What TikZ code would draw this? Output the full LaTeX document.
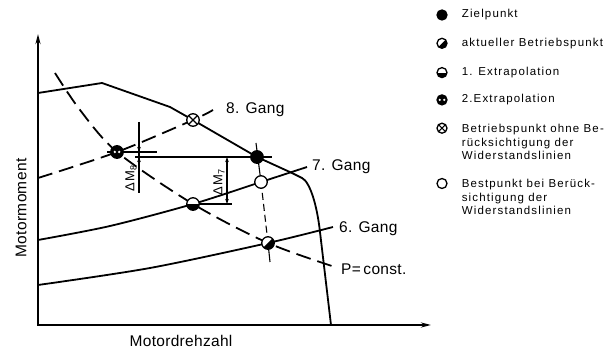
\documentclass[tikz,border=0pt]{standalone}
\usepackage{fontspec}
\setmainfont{Liberation Sans}
\newfontfamily\legfont[LetterSpace=10]{Liberation Sans}
\newfontfamily\labfont[LetterSpace=2]{Liberation Sans}
\usepackage{tikz}
\usetikzlibrary{arrows.meta,positioning,shapes}

\begin{document}
\begin{tikzpicture}[x=1pt, y=-1pt, node distance=17pt,
    curve/.style={line width=1.8pt},
    dashcurve/.style={line width=1.8pt, dash pattern=on 15pt off 7pt},
    helpline/.style={line width=1.1pt},
    dim/.style={helpline, -{Stealth[length=5pt,width=3.5pt]}},
    mk/.style={circle, draw, line width=1.3pt, inner sep=0pt, minimum size=12.5pt, fill=white},
    legmk/.style={mk, minimum size=10pt},
    ziel/.style={fill=black},
    best/.style={},
    ohne/.style={path picture={\draw[black, line width=1.1pt] (path picture bounding box.north west) -- (path picture bounding box.south east) (path picture bounding box.north east) -- (path picture bounding box.south west);}},
    aktuell/.style={path picture={\fill[black] (path picture bounding box.north east) -- (path picture bounding box.south west) -- (path picture bounding box.south east) -- cycle;}},
    extraA/.style={path picture={\fill[black] (path picture bounding box.west) rectangle (path picture bounding box.south east);}},
    extraB/.style={fill=black, path picture={\fill[white] ([xshift=-2.2pt]path picture bounding box.center) circle (1.3pt) ([xshift=2.2pt]path picture bounding box.center) circle (1.3pt);}},
    lab/.style={font=\labfont\fontsize{15.5}{18}\selectfont, inner sep=0pt},
    dimlab/.style={font=\legfont\fontsize{13}{15}\selectfont, inner sep=0pt, rotate=90},
    leg/.style={font=\legfont\fontsize{11.5}{13.5}\selectfont, align=left, inner sep=0pt}]

    \useasboundingbox (0,0) rectangle (614,355);

    \coordinate (O) at (38,325);
    \coordinate (ytop) at (38,34);
    \coordinate (xend) at (431,325);
    \coordinate (pZiel) at (257,157);
    \coordinate (pBest) at (261,182);
    \coordinate (pAkt) at (268,243);
    \coordinate (pEx1) at (193,204);
    \coordinate (pEx2) at (117,152);
    \coordinate (pOhne) at (193,120);
    \coordinate (zt) at (256,143);
    \coordinate (ab) at (270,262);
    \coordinate (d8a) at (139,152);
    \coordinate (d8b) at (139,157);
    \coordinate (d7a) at (227,157);
    \coordinate (d7b) at (227,204);

    \draw[line width=1.8pt, {Stealth[length=10pt,width=5pt]}-{Stealth[length=10pt,width=5pt]}] (ytop) -- (O) -- (xend);

    \draw[curve] (38,93) -- (102,83) -- (170,107) -- (pOhne) -- (pZiel) -- (292,173) -- (302,178)
        .. controls (310,182) and (317,205) .. (320,232) -- (331,325);
    \draw[dashcurve] plot[smooth] coordinates {(38,178) (pEx2) (pOhne) (213,110)};
    \draw[curve] plot[smooth] coordinates {(38,240) (110,226) (pEx1) (pBest) (307,167)};
    \draw[curve] plot[smooth] coordinates {(38,285) (150,268) (pAkt) (333,227)};
    \draw[dashcurve] plot[smooth] coordinates {(55,73) (80,110) (pEx2) (pEx1) (pAkt) (338,268)};

    \draw[helpline] (zt) -- (pBest);
    \draw[helpline, dash pattern=on 7pt off 4pt] (pBest) -- (pAkt);
    \draw[helpline] (pAkt) -- (ab);
    \draw[helpline] ([xshift=-4pt]d8b) -- (pZiel) -- ([xshift=15pt]pZiel);
    \draw[helpline] ([xshift=-10pt]pEx2) -- ([xshift=40pt]pEx2);
    \draw[helpline] ([yshift=30pt]d8a) -- ([yshift=-41pt]d8a);
    \draw[dim] ([yshift=11pt]d8a) -- (d8a);
    \draw[dim] ([yshift=-11pt]d8b) -- (d8b);
    \draw[helpline, {Stealth[length=5pt,width=3.5pt]}-{Stealth[length=5pt,width=3.5pt]}] (d7a) -- (d7b);
    \draw[helpline] (pEx1) -- ([xshift=5pt]d7b);

    \node[mk, ziel] (ziel) at (pZiel) {};
    \node[mk, best] (best) at (pBest) {};
    \node[mk, aktuell] (akt) at (pAkt) {};
    \node[mk, extraA] (ex1) at (pEx1) {};
    \node[mk, extraB] (ex2) at (pEx2) {};
    \node[mk, ohne] (ohne) at (pOhne) {};

    \node[dimlab] (dm8) at (131,178) {ΔM\textsubscript{8}};
    \node[dimlab] (dm7) at (219,182) {ΔM\textsubscript{7}};
    \node[lab, anchor=west] (g8) at (226,109.5) {8. Gang};
    \node[lab, anchor=west] (g7) at (312,166.5) {7. Gang};
    \node[lab, anchor=west] (g6) at (339,228.5) {6. Gang};
    \node[lab, anchor=west] (pc) at (341,269.5) {P=\,const.};
    \node[lab, rotate=90] (ylab) at (21,208) {Motormoment};
    \node[lab] (xlab) at (181,341) {Motordrehzahl};

    \node[legmk, ziel] (k1) at (442,15) {};
    \node[legmk, aktuell, below=of k1] (k2) {};
    \node[legmk, extraA, below=18pt of k2] (k3) {};
    \node[legmk, extraB, below=16pt of k3] (k4) {};
    \node[legmk, ohne, below=of k4] (k5) {};
    \node[legmk, best, below=44pt of k5] (k6) {};

    \node[leg, right=14pt of k1] (t1) {Zielpunkt};
    \node[leg, right=14pt of k2] (t2) {aktueller Betriebspunkt};
    \node[leg, right=14pt of k3] (t3) {1. Extrapolation};
    \node[leg, right=14pt of k4] (t4) {2.Extrapolation};
    \node[leg, anchor=north west] (t5) at ([xshift=14pt, yshift=4.2pt]k5.east) {Betriebspunkt ohne Be-\\rücksichtigung der\\Widerstandslinien};
    \node[leg, anchor=north west] (t6) at ([xshift=14pt, yshift=4.2pt]k6.east) {Bestpunkt bei Berück-\\sichtigung der\\Widerstandslinien};
\end{tikzpicture}
\end{document}
